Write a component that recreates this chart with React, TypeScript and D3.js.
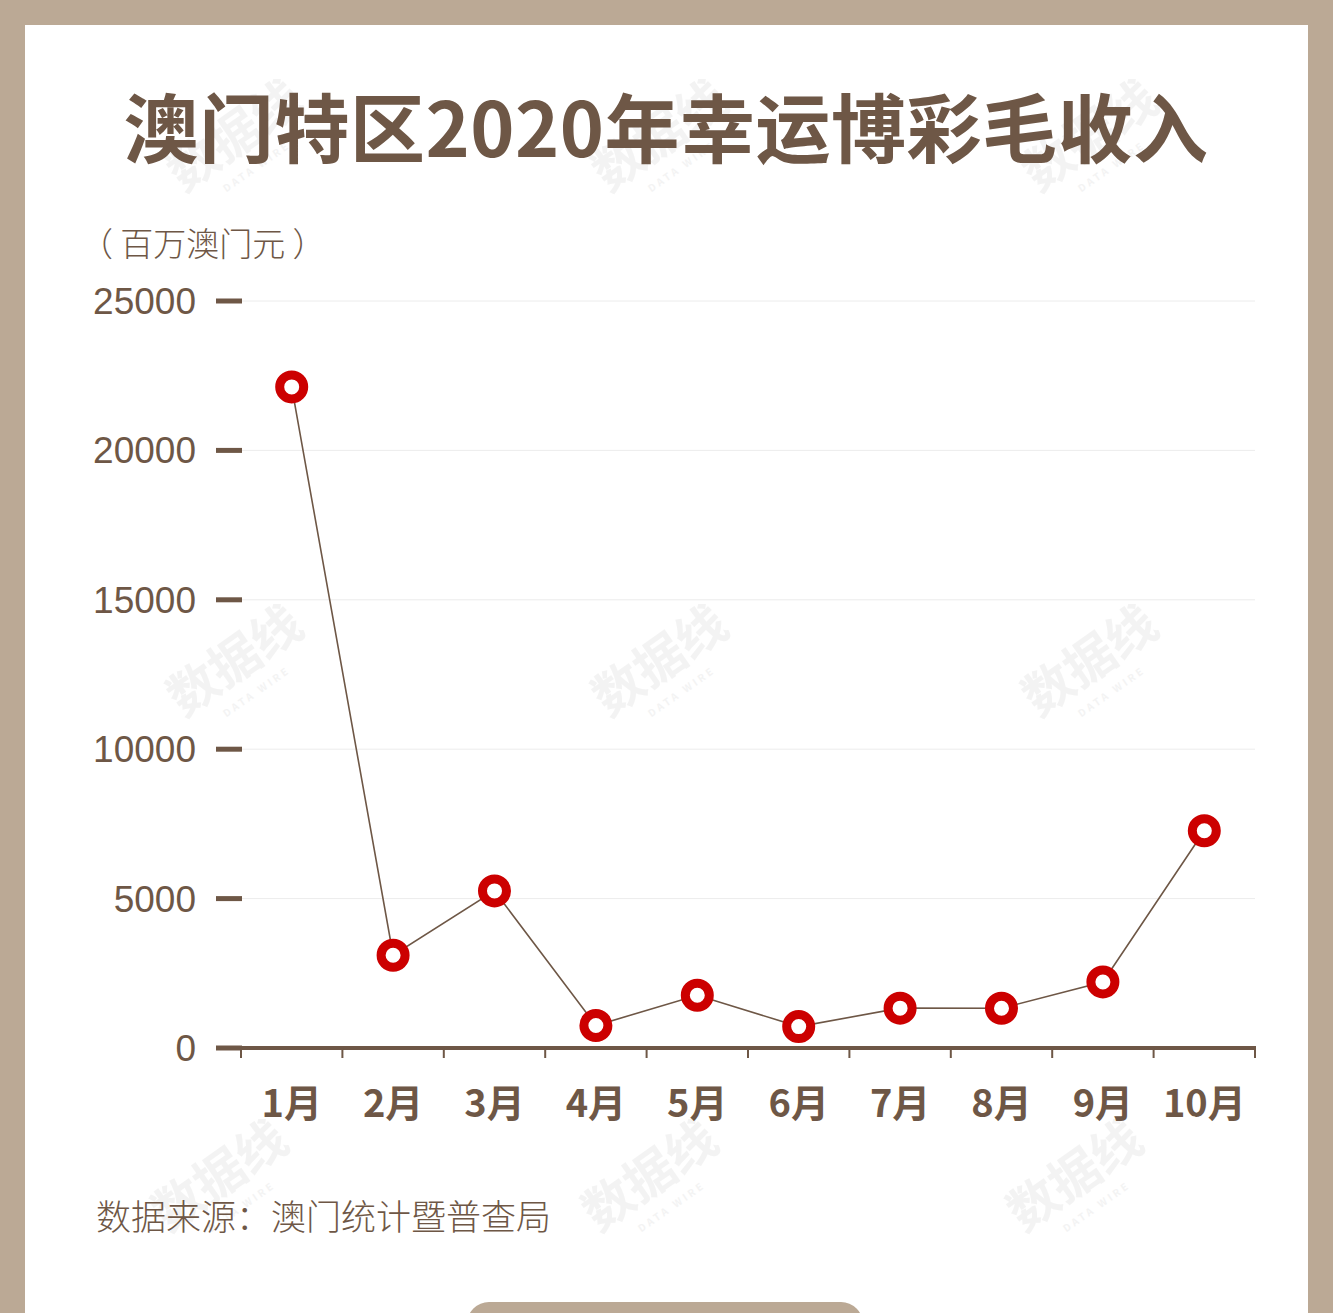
import React from "react";
import * as d3 from "d3";

const months = ["1月", "2月", "3月", "4月", "5月", "6月", "7月", "8月", "9月", "10月"];
const revenue = [22126, 3104, 5257, 754, 1764, 716, 1334, 1330, 2211, 7270];
const yTicks = [0, 5000, 10000, 15000, 20000, 25000];
const title = "澳门特区2020年幸运博彩毛收入";
const unitLabel = "（ 百万澳门元 ）";
const sourceLabel = "数据来源：澳门统计暨普查局";
const watermarks: [number, number][] = [
  [245, 150], [670, 150], [1100, 150],
  [245, 675], [670, 675], [1100, 675],
  [230, 1190], [660, 1190], [1085, 1190],
];

const W = 1333;
const H = 1313;
const BG = "#bba995";
const BROWN = "#6e5746";
const FONT = "'Noto Sans CJK SC', 'Noto Sans', sans-serif";

export default function App() {
  const x = d3.scaleBand<string>().domain(months).range([241, 1255]);
  const y = d3.scaleLinear().domain([0, 25000]).range([1048, 301]);
  const line = d3
    .line<number>()
    .x((_, i) => (x(months[i]) as number) + x.bandwidth() / 2)
    .y((d) => y(d));
  const boundaries = months.map((m) => x(m) as number).concat([x.range()[1]]);

  return (
    <svg
      width={W}
      height={H}
      style={{ position: "absolute", left: 0, top: 0, display: "block" }}
      fontFamily={FONT}
    >
      <rect x={0} y={0} width={W} height={H} fill={BG} />
      <rect x={25} y={25} width={1283} height={H} fill="#ffffff" />
      <rect x={467} y={1302} width={396} height={60} rx={22} fill={BG} />

      {watermarks.map(([wx, wy], i) => (
        <g key={i} transform={`translate(${wx},${wy}) rotate(-35)`} opacity={0.45}>
          <text textAnchor="middle" fontSize={50} fontWeight={700} fill="#e6e6e6">
            数据线
          </text>
          <text y={24} textAnchor="middle" fontSize={10} fontWeight={700} fill="#e6e6e6" letterSpacing={3}>
            DATA WIRE
          </text>
        </g>
      ))}

      <text x={666} y={157} textAnchor="middle" fontSize={75} fontWeight={700} fill={BROWN} letterSpacing={0.5}>
        {title}
      </text>

      <text x={80} y={256} fontSize={33} fill={BROWN} fontWeight={300}>
        {unitLabel}
      </text>

      {yTicks.map((t) => (
        <g key={t}>
          {t > 0 && (
            <line x1={241} x2={1255} y1={y(t)} y2={y(t)} stroke="#ececec" strokeWidth={1} />
          )}
          <line x1={216} x2={242} y1={y(t)} y2={y(t)} stroke={BROWN} strokeWidth={5} />
          <text
            x={196}
            y={y(t)}
            dy="0.35em"
            textAnchor="end"
            fontSize={37}
            fill={BROWN}
            fontWeight={300}
            fontFamily="'Liberation Sans', 'Noto Sans', sans-serif"
          >
            {t}
          </text>
        </g>
      ))}

      <line x1={241} x2={1256} y1={1048} y2={1048} stroke={BROWN} strokeWidth={4} />
      {boundaries.map((b, i) => (
        <line key={i} x1={b} x2={b} y1={1048} y2={1058} stroke={BROWN} strokeWidth={2} />
      ))}

      {months.map((m) => (
        <text
          key={m}
          x={(x(m) as number) + x.bandwidth() / 2}
          y={1117}
          textAnchor="middle"
          fontSize={38}
          fontWeight={700}
          fill={BROWN}
        >
          {m}
        </text>
      ))}

      <path d={line(revenue) as string} fill="none" stroke={BROWN} strokeWidth={1.6} />
      {revenue.map((v, i) => (
        <circle
          key={i}
          cx={(x(months[i]) as number) + x.bandwidth() / 2}
          cy={y(v)}
          r={12}
          fill="#ffffff"
          stroke="#cc0000"
          strokeWidth={9}
        />
      ))}

      <text x={96} y={1230} fontSize={35} fill={BROWN} fontWeight={300}>
        {sourceLabel}
      </text>
    </svg>
  );
}
